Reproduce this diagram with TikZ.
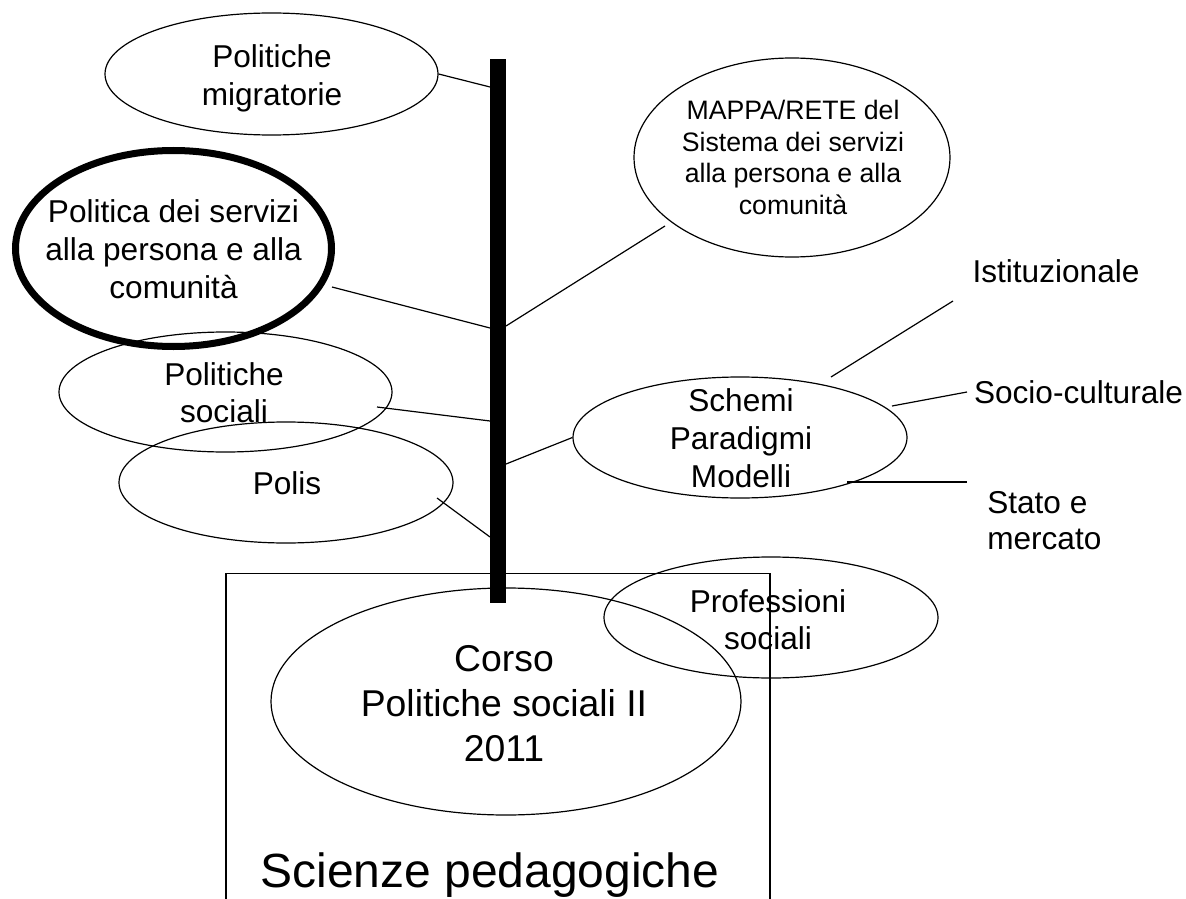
\documentclass[tikz,border=0pt]{standalone}
\usepackage{fontspec}
\setmainfont{Liberation Sans}
\usetikzlibrary{shapes.geometric}
\begin{document}
\begin{tikzpicture}[x=0.75pt,y=-0.75pt,
  bub/.style={ellipse,draw,line width=0.9pt,inner sep=0pt},
  link/.style={line width=0.9pt},
  lbl/.style={inner sep=0pt,anchor=base,align=center,font=\fontsize{23.7}{28.5}\selectfont},
]
\useasboundingbox (0,0) rectangle (1186,899);

% outer frame, open at the bottom
\draw[line width=0.9pt] (226,899) -- (226,573.5) -- (770,573.5) -- (770,899);

% bubbles
\node[bub,minimum width=249.75pt,minimum height=91.5pt] (mig) at (271.5,74) {};
\node[bub,line width=5.25pt,minimum width=237pt,minimum height=147pt] (serv) at (173.5,248.5) {};
\node[bub,minimum width=237pt,minimum height=149.25pt] (mappa) at (792,157.5) {};
\node[bub,minimum width=249.75pt,minimum height=90pt] (soc) at (225.5,392) {};
\node[bub,minimum width=250.5pt,minimum height=90.75pt] (polis) at (286,482.5) {};
\node[bub,minimum width=250.5pt,minimum height=90.75pt] (schemi) at (740,437.5) {};
\node[bub,minimum width=250.5pt,minimum height=90.75pt] (prof) at (771,617.5) {};
\node[bub,minimum width=352.5pt,minimum height=170.25pt] (corso) at (506,701.5) {};

% connector ends
\coordinate (b1) at (490,87);
\coordinate (s1) at (332,287);  \coordinate (b2) at (490,328);
\coordinate (m1) at (665,226);  \coordinate (b3) at (506,326);
\coordinate (p1) at (377,407);  \coordinate (b4) at (490,421);
\coordinate (q1) at (437,498);  \coordinate (b5) at (490,537);
\coordinate (b6) at (506,464);
\coordinate (i1) at (831,377);  \coordinate (i2) at (953,301);
\coordinate (c1) at (892,406);  \coordinate (c2) at (967,392);
\coordinate (t1) at (847,482);  \coordinate (t2) at (967,482);

% branches
\draw[link] (mig.east) -- (b1);
\draw[link] (s1) -- (b2);
\draw[link] (m1) -- (b3);
\draw[link] (p1) -- (b4);
\draw[link] (q1) -- (b5);
\draw[link] (schemi.west) -- (b6);
\draw[link] (i1) -- (i2);
\draw[link] (c1) -- (c2);
\draw[link] (t1) -- (t2);

% trunk
\node[fill=black,inner sep=0pt,minimum width=12pt,minimum height=408pt] (bar) at (498,331) {};

% texts (multi-line nodes sit on the baseline of their last line)
\node[lbl] (tmig) at (272,106) {Politiche\\migratorie};
\node[lbl] (tserv) at (173.5,298) {Politica dei servizi\\alla persona e alla\\comunità};
\node[lbl,font=\fontsize{20}{23.5}\selectfont] (tmappa) at (793,214) {MAPPA/RETE del\\Sistema dei servizi\\alla persona e alla\\comunità};
\node[lbl,font=\fontsize{23.7}{27.75}\selectfont] (tsoc) at (224,422) {Politiche\\sociali};
\node[lbl] (tpolis) at (287,494) {Polis};
\node[lbl] (tschemi) at (741,487) {Schemi\\Paradigmi\\Modelli};
\node[lbl,font=\fontsize{23.7}{27.75}\selectfont] (tprof) at (768,649) {Professioni\\sociali};
\node[lbl,font=\fontsize{28}{33.75}\selectfont] (tcorso) at (504,761) {Corso\\Politiche sociali II\\2011};
\node[lbl,font=\fontsize{36}{42}\selectfont] (tsci) at (490,887) {Scienze pedagogiche};
\node[lbl] (tist) at (1056,282) {Istituzionale};
\node[lbl] (tsocio) at (1078.5,403) {Socio-culturale};
\node[lbl,anchor=base west,align=left,font=\fontsize{23.7}{27}\selectfont] (tstato) at (987,549) {Stato e\\mercato};
\end{tikzpicture}
\end{document}
